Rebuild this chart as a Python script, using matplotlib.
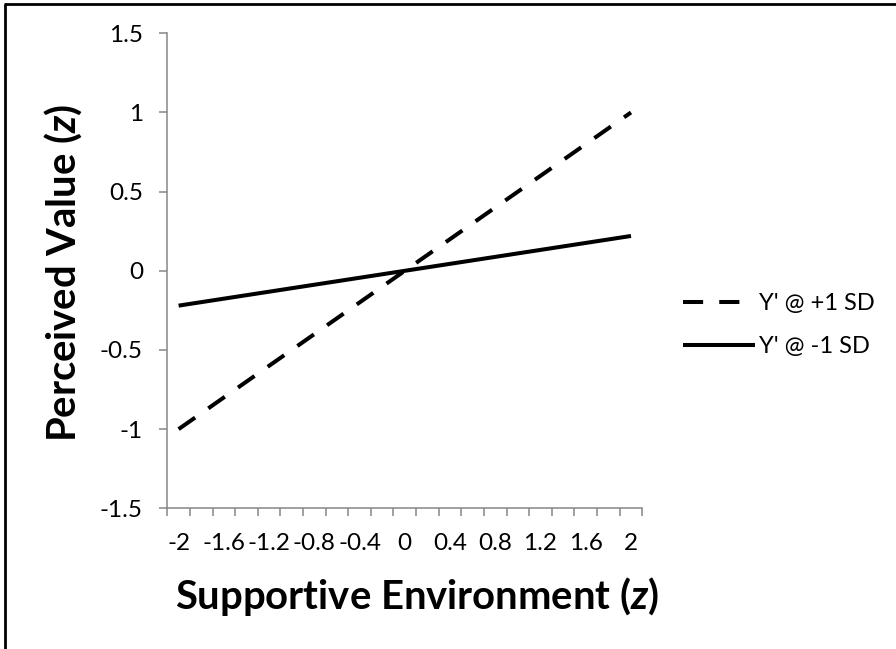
import matplotlib
matplotlib.use("Agg")
import matplotlib.pyplot as plt
from matplotlib.lines import Line2D

plt.rcParams['font.family'] = ['Lato', 'DejaVu Sans']
plt.rcParams['mathtext.fontset'] = 'custom'
plt.rcParams['mathtext.bfit'] = 'Lato:italic:bold'
plt.rcParams['mathtext.rm'] = 'Lato'

# ---- data ----
x_values = [-2.0, -1.8, -1.6, -1.4, -1.2, -1.0, -0.8, -0.6, -0.4, -0.2, 0.0,
            0.2, 0.4, 0.6, 0.8, 1.0, 1.2, 1.4, 1.6, 1.8, 2.0]
y_plus1sd = [-1.0, -0.9, -0.8, -0.7, -0.6, -0.5, -0.4, -0.3, -0.2, -0.1, 0.0,
             0.1, 0.2, 0.3, 0.4, 0.5, 0.6, 0.7, 0.8, 0.9, 1.0]
y_minus1sd = [-0.220, -0.198, -0.176, -0.154, -0.132, -0.110, -0.088, -0.066, -0.044, -0.022, 0.0,
              0.022, 0.044, 0.066, 0.088, 0.110, 0.132, 0.154, 0.176, 0.198, 0.220]
series_labels = ["Y' @ +1 SD", "Y' @ -1 SD"]
x_tick_values = [-2.0, -1.6, -1.2, -0.8, -0.4, 0.0, 0.4, 0.8, 1.2, 1.6, 2.0]
x_tick_labels = ["-2", "-1.6", "-1.2", "-0.8", "-0.4", "0", "0.4", "0.8", "1.2", "1.6", "2"]
y_tick_values = [-1.5, -1.0, -0.5, 0.0, 0.5, 1.0, 1.5]
y_tick_labels = ["-1.5", "-1", "-0.5", "0", "0.5", "1", "1.5"]
x_label = r"Supportive Environment ($\mathbfit{z}$)"
y_label = r"Perceived Value ($\mathbfit{z}$)"

W, H = 896, 649
fig = plt.figure(figsize=(W / 100, H / 100), dpi=100)

left_px, right_px, top_px, bottom_px = 167.3, 642.3, 33.3, 508.3
ax = fig.add_axes([left_px / W, 1 - bottom_px / H,
                   (right_px - left_px) / W, (bottom_px - top_px) / H])

lw = 2.9
ax.plot(x_values, y_plus1sd, color='black', lw=lw, linestyle=(0, (5, 4)),
        dash_capstyle='butt', label=series_labels[0])
ax.plot(x_values, y_minus1sd, color='black', lw=lw, solid_capstyle='butt',
        label=series_labels[1])

ax.set_xlim(-2.1, 2.1)
ax.set_ylim(-1.5, 1.5)

axis_grey = '#868686'
for s in ['top', 'right']:
    ax.spines[s].set_visible(False)
for s in ['left', 'bottom']:
    ax.spines[s].set_color(axis_grey)
    ax.spines[s].set_linewidth(1.1)

# x: category boundaries as tick marks, labels at every other category
boundaries = [x_values[0] - 0.1] + [v + 0.1 for v in x_values]
ax.set_xticks(x_tick_values)
ax.set_xticklabels(x_tick_labels)
ax.set_xticks(boundaries, minor=True)
ax.tick_params(axis='x', which='major', length=0, pad=18, labelsize=17.5)
ax.tick_params(axis='x', which='minor', length=6, width=1.1, color=axis_grey, direction='out')

ax.set_yticks(y_tick_values)
ax.set_yticklabels(y_tick_labels)
ax.tick_params(axis='y', which='major', length=6, width=1.1, color=axis_grey,
               direction='out', pad=11.5, labelsize=17.5)

ax.set_xlabel(x_label, fontsize=28.8, fontweight='bold')
ax.xaxis.set_label_coords((417 - left_px) / (right_px - left_px),
                          (bottom_px - 596) / (bottom_px - top_px))
ax.xaxis.label.set_va('center')
ax.set_ylabel(y_label, fontsize=28.8, fontweight='bold')
ax.yaxis.set_label_coords((63 - left_px) / (right_px - left_px),
                          (bottom_px - 272.5) / (bottom_px - top_px))
ax.yaxis.label.set_va('center')

leg = ax.legend(loc='center left', bbox_to_anchor=(683 / W, 1 - 325 / H),
                bbox_transform=fig.transFigure, frameon=False, fontsize=17,
                handlelength=3.05, handletextpad=0.15, labelspacing=0.95,
                borderpad=0, borderaxespad=0)

# outer frame (left and top edges)
fig.add_artist(Line2D([4.5 / W, 4.5 / W], [0, 1 - 3.5 / H], transform=fig.transFigure,
                      color='black', lw=2.0, solid_capstyle='butt'))
fig.add_artist(Line2D([3.5 / W, 1], [1 - 4 / H, 1 - 4 / H], transform=fig.transFigure,
                      color='black', lw=2.0, solid_capstyle='butt'))

fig.savefig('out.png', dpi=100)
